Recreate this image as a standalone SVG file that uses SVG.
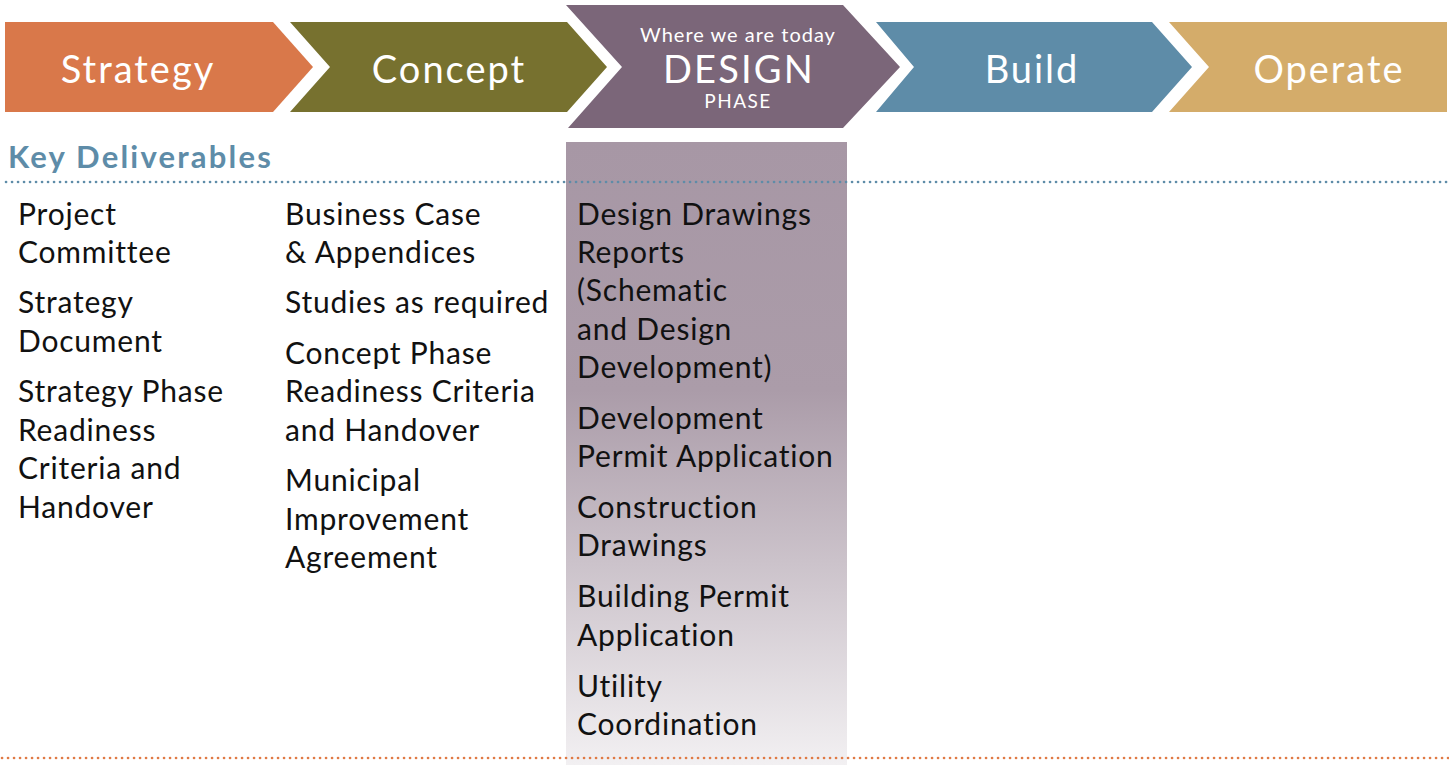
<svg xmlns="http://www.w3.org/2000/svg" width="1449" height="765" viewBox="0 0 1449 765">
<defs>
<linearGradient id="colGrad" x1="0" y1="0" x2="0" y2="1">
<stop offset="0" stop-color="#A797A5"/>
<stop offset="0.4" stop-color="#AB9CA9"/>
<stop offset="1" stop-color="#F2F0F2"/>
</linearGradient>
<style>
.phase{fill:#fff;font-family:Lato,"Noto Sans",sans-serif;text-anchor:middle}
.big{font-size:38px;letter-spacing:2px}
.body{fill:#111;font-family:Lato,"Noto Sans",sans-serif;font-size:30px;letter-spacing:0.8px}
.head{fill:#5E8CA8;font-family:Lato,"Noto Sans",sans-serif;font-size:31px;font-weight:bold;letter-spacing:2.2px}
.dot{fill:none;stroke-width:2.6;stroke-dasharray:0.1 5.9;stroke-linecap:round}
</style>
</defs>
<rect x="566" y="142" width="281" height="623" fill="url(#colGrad)"/>
<g id="lines">
<line class="dot" x1="6" y1="182" x2="1449" y2="182" stroke="#5E8CA8"/>
<line class="dot" x1="2" y1="758" x2="1449" y2="758" stroke="#E07A45"/>
</g>
<g id="strategy">
<polygon points="5,22 273,22 313,67 273,112 5,112" fill="#D9784A"/>
<text class="phase big" x="138" y="83">Strategy</text>
</g>
<g id="concept">
<polygon points="290,22 567,22 607,67 567,112 290,112 330,67" fill="#77712F"/>
<text class="phase big" x="449" y="83">Concept</text>
</g>
<g id="design">
<polygon points="566,5 843,5 900,67 843,128 568,128 622,67" fill="#7B6679"/>
<text class="phase" x="738" y="42" font-size="20" letter-spacing="1">Where we are today</text>
<text class="phase" x="739" y="83" font-size="38" letter-spacing="2.2">DESIGN</text>
<text class="phase" x="738" y="108" font-size="19" letter-spacing="1.5">PHASE</text>
</g>
<g id="build">
<polygon points="876,22 1152,22 1192,67 1152,112 876,112 914,67" fill="#5E8CA8"/>
<text class="phase big" x="1032" y="83">Build</text>
</g>
<g id="operate">
<polygon points="1169,22 1447,22 1447,112 1169,112 1209,67" fill="#D4AC6A"/>
<text class="phase big" x="1329" y="83">Operate</text>
</g>
<g id="deliverables">
<text class="head" x="8" y="168">Key Deliverables</text>
<text class="body" x="18"><tspan x="18" y="225">Project</tspan><tspan x="18" y="263">Committee</tspan><tspan x="18" y="313">Strategy</tspan><tspan x="18" y="352">Document</tspan><tspan x="18" y="402">Strategy Phase</tspan><tspan x="18" y="441">Readiness</tspan><tspan x="18" y="479">Criteria and</tspan><tspan x="18" y="518">Handover</tspan></text>
<text class="body" x="285"><tspan x="285" y="225">Business Case</tspan><tspan x="285" y="263">&amp; Appendices</tspan><tspan x="285" y="313">Studies as required</tspan><tspan x="285" y="364">Concept Phase</tspan><tspan x="285" y="402">Readiness Criteria</tspan><tspan x="285" y="441">and Handover</tspan><tspan x="285" y="491">Municipal</tspan><tspan x="285" y="530">Improvement</tspan><tspan x="285" y="568">Agreement</tspan></text>
<text class="body" x="577"><tspan x="577" y="225">Design Drawings</tspan><tspan x="577" y="263">Reports</tspan><tspan x="577" y="301">(Schematic</tspan><tspan x="577" y="340">and Design</tspan><tspan x="577" y="378">Development)</tspan><tspan x="577" y="429">Development</tspan><tspan x="577" y="467">Permit Application</tspan><tspan x="577" y="518">Construction</tspan><tspan x="577" y="556">Drawings</tspan><tspan x="577" y="607">Building Permit</tspan><tspan x="577" y="646">Application</tspan><tspan x="577" y="697">Utility</tspan><tspan x="577" y="735">Coordination</tspan></text>
</g>
</svg>
